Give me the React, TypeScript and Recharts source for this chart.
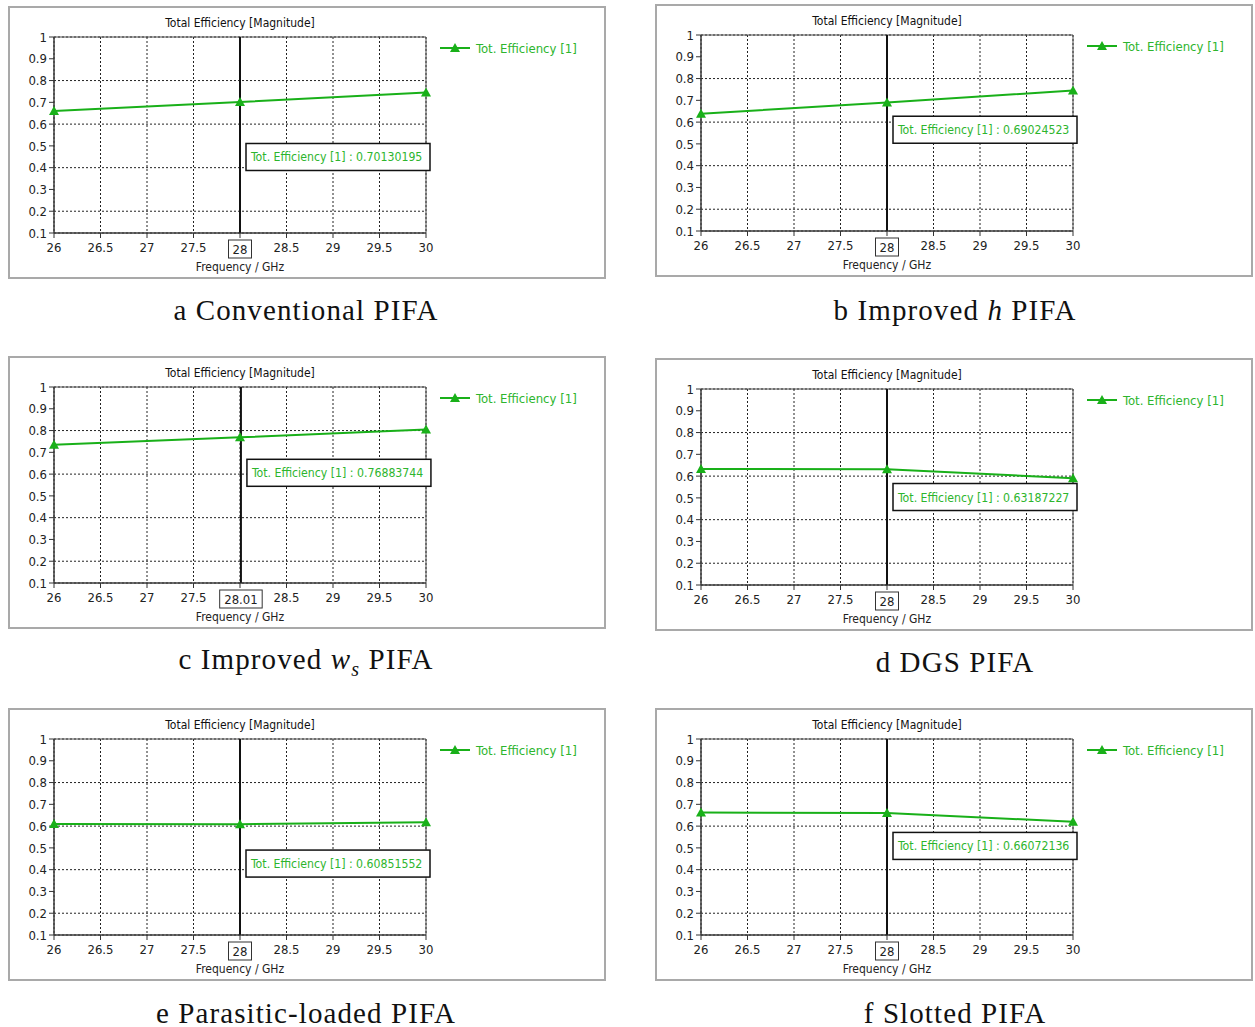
import type { ReactNode } from 'react';
import {
  LineChart,
  Line,
  XAxis,
  YAxis,
  CartesianGrid,
  ReferenceLine,
  ReferenceDot,
  ReferenceArea,
} from 'recharts';

// frequency samples (GHz) where CST put its markers
const freqs = [26, 28, 30];

// total efficiency
const effConventional = [0.66, 0.7013, 0.745];
const effImprovedH = [0.638, 0.6902, 0.745];
const effImprovedWs = [0.735, 0.7688, 0.805];
const effDgs = [0.633, 0.6319, 0.59];
const effParasitic = [0.61, 0.6085, 0.618];
const effSlotted = [0.662, 0.6607, 0.62];

// marker readouts
const markerFreqs = [28, 28, 28.01, 28, 28, 28];
const markerFreqLabels = ['28', '28', '28.01', '28', '28', '28'];
const markerReadouts = ['0.70130195', '0.69024523', '0.76883744', '0.63187227', '0.60851552', '0.66072136'];
// y value where the readout box sits
const readoutAt = [0.511, 0.627, 0.668, 0.566, 0.49, 0.571];

const xTicks = [26, 26.5, 27, 27.5, 28, 28.5, 29, 29.5, 30];
const yTicks = [0.1, 0.2, 0.3, 0.4, 0.5, 0.6, 0.7, 0.8, 0.9, 1];

const GREEN = '#19b019';
const TEXT_GREEN = '#2db52d';
const UI_FONT = '"DejaVu Sans Condensed", "DejaVu Sans", sans-serif';

function Triangle(props: any) {
  const { cx, cy } = props;
  if (cx == null || cy == null) return null;
  return <polygon points={`${cx},${cy - 5} ${cx - 5},${cy + 4} ${cx + 5},${cy + 4}`} fill={GREEN} />;
}

function MarkerTick(props: any) {
  const { viewBox, text } = props;
  if (!viewBox) return null;
  const cx = viewBox.x;
  const bottom = viewBox.y + viewBox.height;
  const w = text.length * 6.5 + 10;
  return (
    <g>
      <rect x={cx - w / 2} y={bottom + 7} width={w} height={18} fill="#fff" stroke="#333" />
      <text x={cx} y={bottom + 21} textAnchor="middle" fontSize={13} fill="#222" fontFamily={UI_FONT}>
        {text}
      </text>
    </g>
  );
}

function ReadoutBox(props: any) {
  const { cx, cy, text } = props;
  if (cx == null || cy == null) return null;
  return (
    <g>
      <rect x={cx + 6} y={cy} width={184} height={27} fill="#fff" stroke="#111" strokeWidth={1.5} />
      <text x={cx + 11} y={cy + 18} fontSize={12.2} fill={TEXT_GREEN} fontFamily={UI_FONT}>
        {text}
      </text>
    </g>
  );
}

interface PanelProps {
  left: number;
  top: number;
  series: number[];
  idx: number;
}

function Panel({ left, top, series, idx }: PanelProps) {
  const data = freqs.map((f, i) => ({ freq: f, eff: series[i] }));
  const mx = markerFreqs[idx];
  return (
    <div
      style={{
        position: 'absolute',
        left,
        top,
        width: 598,
        height: 273,
        border: '2px solid #a9a9a9',
        boxSizing: 'border-box',
        background: '#fff',
        fontFamily: UI_FONT,
      }}
    >
      <div style={{ position: 'absolute', left: 44, width: 372, top: 8, textAlign: 'center', fontSize: 12, color: '#111' }}>
        Total Efficiency [Magnitude]
      </div>
      <div style={{ position: 'absolute', left: 430, top: 32, height: 16, display: 'flex', alignItems: 'center' }}>
        <svg width={30} height={16}>
          <line x1={0} y1={8} x2={30} y2={8} stroke={GREEN} strokeWidth={2} />
          <polygon points="15,3 10,12 20,12" fill={GREEN} />
        </svg>
        <span style={{ marginLeft: 6, fontSize: 13, color: TEXT_GREEN }}>Tot. Efficiency [1]</span>
      </div>
      <LineChart width={594} height={269} data={data} margin={{ top: 29, right: 178, left: 0, bottom: 0 }}>
        <CartesianGrid stroke="#222" strokeDasharray="2 2" />
        <XAxis
          dataKey="freq"
          type="number"
          domain={[26, 30]}
          ticks={xTicks}
          height={44}
          tickSize={5}
          tickMargin={5}
          stroke="#333"
          tick={{ fill: '#222', fontSize: 13, fontFamily: UI_FONT }}
          tickFormatter={(v: number) => (v === 28 ? '' : String(v))}
          label={{ value: 'Frequency / GHz', position: 'insideBottom', offset: 6, fill: '#222', fontSize: 12, fontFamily: UI_FONT }}
        />
        <YAxis
          type="number"
          domain={[0.1, 1]}
          ticks={yTicks}
          width={44}
          tickSize={5}
          stroke="#333"
          tick={{ fill: '#222', fontSize: 13, fontFamily: UI_FONT }}
          tickFormatter={(v: number) => (v === 1 ? '1' : v.toFixed(1))}
        />
        <ReferenceArea x1={26} x2={30} y1={0.1} y2={1} fill="none" stroke="#4a4a4a" />
        <ReferenceLine
          x={mx}
          stroke="#111"
          strokeWidth={2}
          label={<MarkerTick text={markerFreqLabels[idx]} />}
        />
        <Line
          type="linear"
          dataKey="eff"
          stroke={GREEN}
          strokeWidth={2}
          dot={<Triangle />}
          activeDot={false}
          isAnimationActive={false}
        />
        <ReferenceDot
          x={mx}
          y={readoutAt[idx]}
          r={0}
          shape={(p: any) => <ReadoutBox {...p} text={`Tot. Efficiency [1] : ${markerReadouts[idx]}`} />}
        />
      </LineChart>
    </div>
  );
}

function Caption({ x, y, children }: { x: number; y: number; children: ReactNode }) {
  return (
    <div
      style={{
        position: 'absolute',
        left: x,
        top: y,
        transform: 'translate(-50%, -50%)',
        whiteSpace: 'nowrap',
        fontFamily: '"Liberation Serif", "Times New Roman", serif',
        fontSize: 29,
        letterSpacing: 1.1,
        color: '#111',
      }}
    >
      {children}
    </div>
  );
}

export default function App() {
  return (
    <div style={{ position: 'absolute', left: 0, top: 0, width: 1255, height: 1027, background: '#fff' }}>
      <Panel left={8} top={6} series={effConventional} idx={0} />
      <Panel left={655} top={4} series={effImprovedH} idx={1} />
      <Panel left={8} top={356} series={effImprovedWs} idx={2} />
      <Panel left={655} top={358} series={effDgs} idx={3} />
      <Panel left={8} top={708} series={effParasitic} idx={4} />
      <Panel left={655} top={708} series={effSlotted} idx={5} />

      <Caption x={306} y={310}>a Conventional PIFA</Caption>
      <Caption x={955} y={310}>
        b Improved <i>h</i> PIFA
      </Caption>
      <Caption x={306} y={662}>
        c Improved <i>w</i>
        <sub style={{ fontStyle: 'italic', fontSize: 20 }}>s</sub> PIFA
      </Caption>
      <Caption x={955} y={662}>d DGS PIFA</Caption>
      <Caption x={306} y={1013}>e Parasitic-loaded PIFA</Caption>
      <Caption x={955} y={1013}>f Slotted PIFA</Caption>
    </div>
  );
}
